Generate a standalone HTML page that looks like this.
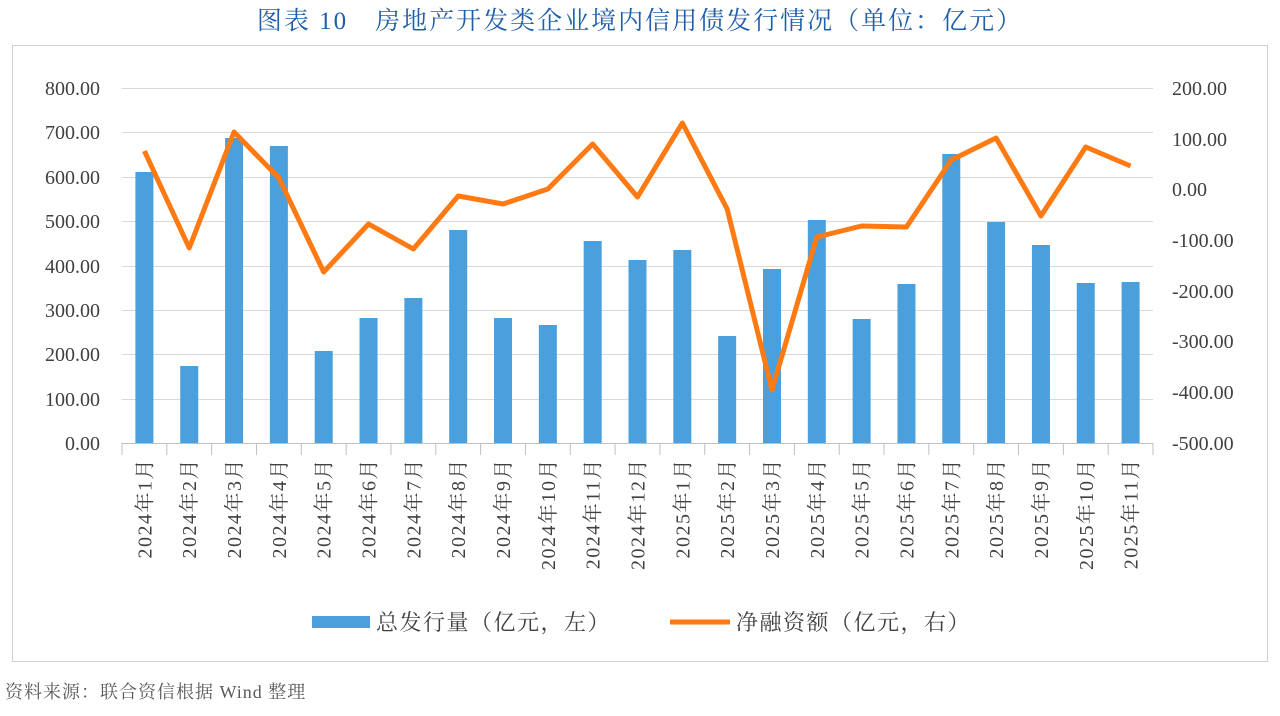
<!DOCTYPE html>
<html><head><meta charset="utf-8"><style>
body{margin:0;background:#fff;width:1280px;height:711px;overflow:hidden;font-family:"Liberation Serif","Noto Serif CJK SC",serif;}
</style></head><body>
<svg width="1280" height="711" xmlns="http://www.w3.org/2000/svg" font-family="Liberation Serif, Noto Serif CJK SC, serif">
<text x="640" y="29" text-anchor="middle" font-size="25" letter-spacing="2" fill="#1f5fa8">图表 10　房地产开发类企业境内信用债发行情况（单位：亿元）</text>
<rect x="12.5" y="45.5" width="1255" height="616" fill="none" stroke="#d0d0d0"/>
<g stroke="#d9d9d9" stroke-width="1">
<line x1="122" x2="1153" y1="88.5" y2="88.5"/><line x1="122" x2="1153" y1="132.5" y2="132.5"/>
<line x1="122" x2="1153" y1="177.5" y2="177.5"/><line x1="122" x2="1153" y1="221.5" y2="221.5"/>
<line x1="122" x2="1153" y1="266.5" y2="266.5"/><line x1="122" x2="1153" y1="310.5" y2="310.5"/>
<line x1="122" x2="1153" y1="354.5" y2="354.5"/><line x1="122" x2="1153" y1="399.5" y2="399.5"/>
</g>
<g font-size="20" fill="#404040" text-anchor="end">
<text x="100" y="95">800.00</text><text x="100" y="139">700.00</text><text x="100" y="184">600.00</text>
<text x="100" y="228">500.00</text><text x="100" y="273">400.00</text><text x="100" y="317">300.00</text>
<text x="100" y="361">200.00</text><text x="100" y="406">100.00</text><text x="100" y="450">0.00</text>
</g>
<g font-size="20" fill="#404040">
<text x="1172" y="95">200.00</text><text x="1172" y="146">100.00</text><text x="1172" y="196">0.00</text>
<text x="1172" y="247">-100.00</text><text x="1172" y="298">-200.00</text><text x="1172" y="348">-300.00</text>
<text x="1172" y="399">-400.00</text><text x="1172" y="450">-500.00</text>
</g>
<g id="bars" fill="#4a9fdd"></g>
<line x1="122" x2="1153" y1="443.5" y2="443.5" stroke="#bfbfbf"/>
<g id="ticks" stroke="#bfbfbf"></g>
<polyline id="line" fill="none" stroke="#ff7a12" stroke-width="5" stroke-linejoin="round"/>
<g id="labels" font-size="20" letter-spacing="1.5" fill="#404040"></g>
<rect x="312" y="616" width="58" height="12" fill="#4a9fdd"/>
<text x="376" y="630" font-size="22" letter-spacing="1.5" fill="#404040">总发行量（亿元，左）</text>
<line x1="670" x2="730" y1="622" y2="622" stroke="#ff7a12" stroke-width="5"/>
<text x="736" y="630" font-size="22" letter-spacing="1.5" fill="#404040">净融资额（亿元，右）</text>
<text x="5" y="698" font-size="18" letter-spacing="1" fill="#595959">资料来源：联合资信根据 Wind 整理</text>
</svg>
<script>
var bt=[172,366,138,146,351,318,298,230,318,325,241,260,250,336,269,220,319,284,154,222,245,283,282];
var ly=[151,248,132,178,272,224,249,196,204,189,144,197,123,209,390,237,226,227,160,138,216,147,166];
var lab=["2024年1月","2024年2月","2024年3月","2024年4月","2024年5月","2024年6月","2024年7月","2024年8月","2024年9月","2024年10月","2024年11月","2024年12月","2025年1月","2025年2月","2025年3月","2025年4月","2025年5月","2025年6月","2025年7月","2025年8月","2025年9月","2025年10月","2025年11月"];
var ns="http://www.w3.org/2000/svg",w=1031/23,pts=[];
function el(t,a,p){var e=document.createElementNS(ns,t);for(var k in a)e.setAttribute(k,a[k]);document.getElementById(p).appendChild(e);return e;}
for(var i=0;i<23;i++){var cx=122+w*(i+0.5);
el("rect",{x:cx-9,y:bt[i],width:18,height:443-bt[i]},"bars");
el("line",{x1:122+w*i,x2:122+w*i,y1:443,y2:455},"ticks");
pts.push(cx+","+ly[i]);
var t=el("text",{transform:"translate("+(cx+7)+",458) rotate(-90)","text-anchor":"end"},"labels");t.textContent=lab[i];}
el("line",{x1:1153,x2:1153,y1:443,y2:455},"ticks");
document.getElementById("line").setAttribute("points",pts.join(" "));
</script>
</body></html>
